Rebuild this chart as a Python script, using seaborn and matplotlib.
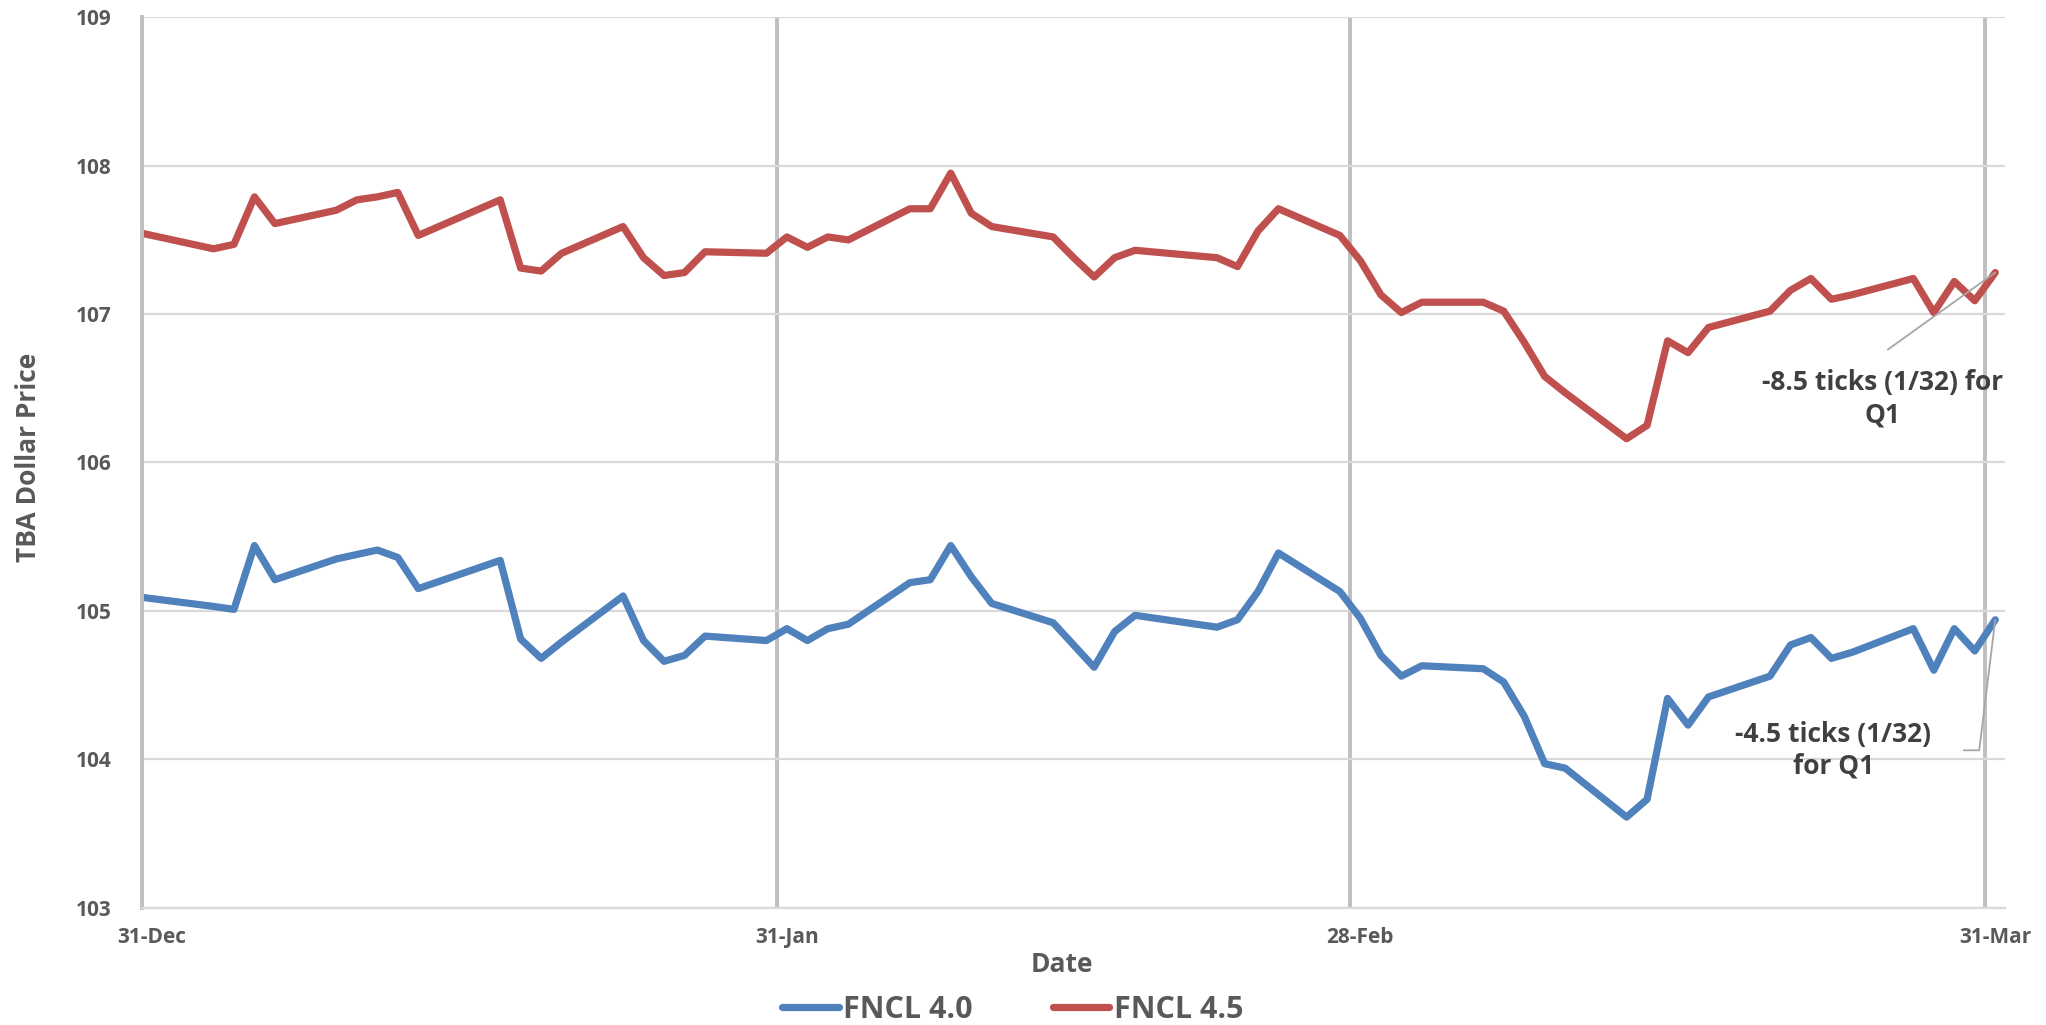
import matplotlib
matplotlib.use("Agg")
import matplotlib.pyplot as plt
import matplotlib.dates as mdates
import pandas as pd
import seaborn as sns

# trading days, Q1 2017 (Dec 30 is the year-end close, clipped at the axis edge)
DATES = (
    ["2016-12-30"]
    + ["2017-01-%02d" % d for d in [3, 4, 5, 6, 9, 10, 11, 12, 13, 17, 18, 19, 20,
                                    23, 24, 25, 26, 27, 30, 31]]
    + ["2017-02-%02d" % d for d in [1, 2, 3, 6, 7, 8, 9, 10, 13, 14, 15, 16, 17,
                                    21, 22, 23, 24, 27, 28]]
    + ["2017-03-%02d" % d for d in [1, 2, 3, 6, 7, 8, 9, 10, 13, 14, 15, 16, 17,
                                    20, 21, 22, 23, 24, 27, 28, 29, 30, 31]]
)

FNCL_40 = [105.10,
           105.03, 105.01, 105.44, 105.21, 105.35, 105.38, 105.41, 105.36, 105.15,
           105.34, 104.81, 104.68, 104.79, 105.10, 104.80, 104.66, 104.70, 104.83,
           104.80, 104.88,
           104.80, 104.88, 104.91, 105.19, 105.21, 105.44, 105.23, 105.05, 104.92,
           104.77, 104.62, 104.86, 104.97, 104.89, 104.94, 105.13, 105.39, 105.13,
           104.95,
           104.70, 104.56, 104.63, 104.61, 104.52, 104.29, 103.97, 103.94, 103.61,
           103.73, 104.41, 104.23, 104.42, 104.56, 104.77, 104.82, 104.68, 104.72,
           104.88, 104.60, 104.88, 104.73, 104.94]

FNCL_45 = [107.56,
           107.44, 107.47, 107.79, 107.61, 107.70, 107.77, 107.79, 107.82, 107.53,
           107.77, 107.31, 107.29, 107.41, 107.59, 107.38, 107.26, 107.28, 107.42,
           107.41, 107.52,
           107.45, 107.52, 107.50, 107.71, 107.71, 107.95, 107.68, 107.59, 107.52,
           107.38, 107.25, 107.38, 107.43, 107.38, 107.32, 107.56, 107.71, 107.53,
           107.36,
           107.13, 107.01, 107.08, 107.08, 107.02, 106.81, 106.58, 106.47, 106.16,
           106.25, 106.82, 106.74, 106.91, 107.02, 107.16, 107.24, 107.10, 107.13,
           107.24, 107.01, 107.22, 107.09, 107.28]

SERIES = ["FNCL 4.0", "FNCL 4.5"]
COLORS = ["#4F81BD", "#C0504D"]
MONTH_ENDS = ["2016-12-31", "2017-01-31", "2017-02-28", "2017-03-31"]
MONTH_LABELS = ["31-Dec", "31-Jan", "28-Feb", "31-Mar"]
Y_TICKS = [103, 104, 105, 106, 107, 108, 109]
NOTES = ["-4.5 ticks (1/32)\nfor Q1", "-8.5 ticks (1/32) for\nQ1"]

sns.set_style("white")
plt.rcParams["font.family"] = ["Open Sans", "DejaVu Sans"]
plt.rcParams["font.weight"] = "bold"
plt.rcParams["lines.solid_capstyle"] = "round"

# excel date axis: each day is drawn at the middle of its slot
half_day = pd.Timedelta(hours=12)
dates = pd.to_datetime(DATES) + half_day
df = pd.concat([
    pd.DataFrame({"date": dates, "price": FNCL_40, "series": SERIES[0]}),
    pd.DataFrame({"date": dates, "price": FNCL_45, "series": SERIES[1]}),
])

fig = plt.figure(figsize=(20.46, 10.25), dpi=100)
ax = fig.add_axes([0.0693, 0.1145, 0.9109, 0.8686])

sns.lineplot(data=df, x="date", y="price", hue="series", palette=COLORS,
             linewidth=5.2, ax=ax, sort=False)

# axes
ax.set_xlim(pd.Timestamp("2016-12-31"), pd.Timestamp("2017-04-01"))
ax.set_ylim(103, 109)
ax.set_yticks(Y_TICKS)
ax.set_yticklabels([str(v) for v in Y_TICKS])

month_ends = pd.to_datetime(MONTH_ENDS)
ax.set_xticks(month_ends)
ax.set_xticklabels([])
ax.set_xticks(month_ends + half_day, minor=True)
ax.set_xticklabels(MONTH_LABELS, minor=True)
ax.tick_params(axis="x", which="both", length=0, pad=14, labelsize=15,
               labelcolor="#595959")
ax.tick_params(axis="y", length=0, pad=22, labelsize=15, labelcolor="#595959")

ax.grid(axis="y", color="#D9D9D9", linewidth=1.6)
ax.grid(axis="x", which="major", color="#BFBFBF", linewidth=2.8)
ax.set_axisbelow(True)

for side in ["top", "right"]:
    ax.spines[side].set_visible(False)
ax.spines["left"].set_color("#BFBFBF")
ax.spines["left"].set_linewidth(2.8)
ax.spines["bottom"].set_color("#D9D9D9")
ax.spines["bottom"].set_linewidth(1.6)

ax.set_xlabel("")
ax.set_ylabel("")
fig.text(0.519, 0.059, "Date", ha="center", va="center", fontsize=19,
         fontweight="bold", color="#595959")
fig.text(0.014, 0.554, "TBA Dollar Price", rotation=90, ha="center", va="center",
         fontsize=19, fontweight="bold", color="#595959")

# legend under the chart
handles, labels = ax.get_legend_handles_labels()
ax.get_legend().remove()
fig.legend(handles, labels, loc="center", bbox_to_anchor=(0.495, 0.0146), ncol=2,
           frameon=False, fontsize=22, handlelength=1.85, handletextpad=0.15,
           columnspacing=2.6, labelcolor="#595959")

# call-outs on the quarter change
last = mdates.date2num(dates[-1])
ax.annotate(NOTES[1], xy=(last, FNCL_45[-1]), xycoords="data",
            xytext=(0.920, 0.611), textcoords="figure fraction",
            ha="center", va="center", fontsize=19, fontweight="bold",
            color="#404040", linespacing=1.25,
            arrowprops=dict(arrowstyle="-", color="#A6A6A6", lw=1.3,
                            relpos=(0.41, 1.0), shrinkA=20, shrinkB=0))
ax.annotate(NOTES[0], xy=(last, FNCL_40[-1]), xycoords="data",
            xytext=(0.896, 0.268), textcoords="figure fraction",
            ha="center", va="center", fontsize=19, fontweight="bold",
            color="#404040", linespacing=1.25,
            arrowprops=dict(arrowstyle="-", color="#A6A6A6", lw=1.3,
                            relpos=(1.0, 0.5), shrinkA=21, shrinkB=0,
                            connectionstyle="angle,angleA=0,angleB=83,rad=0"))

fig.savefig("out.png", dpi=100)
